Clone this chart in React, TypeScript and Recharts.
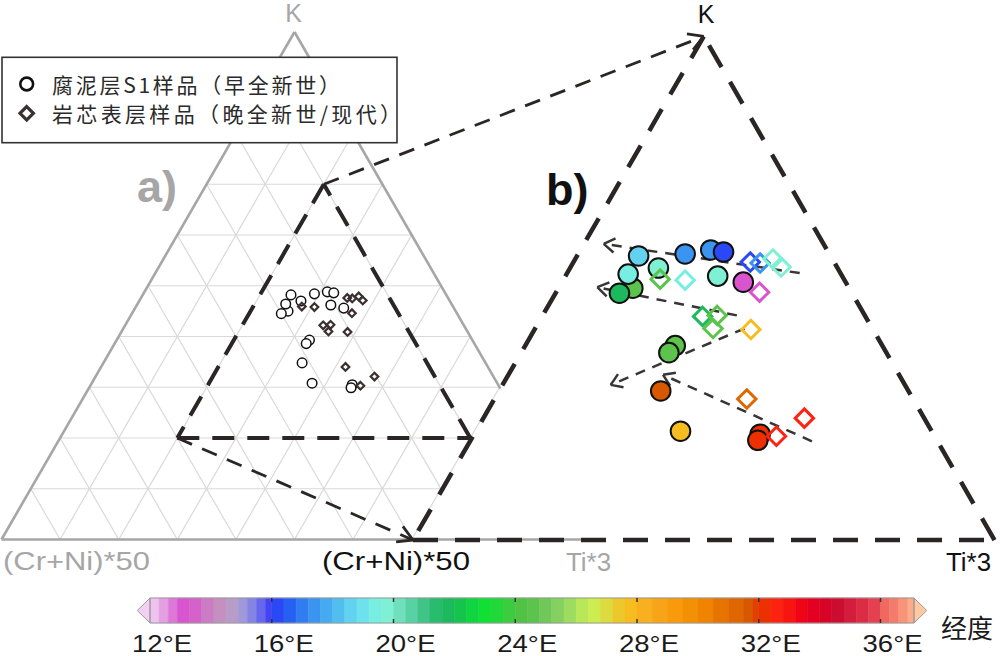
import React from 'react';
import { ComposedChart, Scatter, XAxis, YAxis, ReferenceLine, ReferenceArea } from 'recharts';

// ---------------- DATA ----------------
// Ternary composition in percent: K, Ti*3 ((Cr+Ni)*50 = remainder); longitude in °E
// Sapropel S1 samples (early Holocene) — circles
const s1K = [45.0, 44.5, 46.4, 48.2, 48.4, 48.8, 48.6, 47.0, 46.2, 45.6, 39.3, 38.6, 34.8, 30.8, 30.5, 29.9];
const s1Ti = [26.4, 25.5, 25.3, 25.3, 29.2, 31.2, 32.4, 27.6, 33.1, 35.6, 32.9, 32.7, 33.9, 37.6, 44.6, 44.7];
const s1Lon = [24.5, 21.7, 19.4, 18.6, 17.3, 17.3, 16.1, 19.8, 19.7, 13.0, 24.5, 24.5, 31.6, 27.7, 32.1, 32.2];

// Core-top samples (late Holocene / modern) — diamonds
const coreK = [45.9, 45.8, 47.6, 47.5, 47.9, 47.1, 44.6, 42.2, 42.3, 41.0, 40.9, 34.0, 32.1, 30.3];
const coreTi = [28.3, 30.5, 35.2, 36.1, 37.0, 38.1, 37.5, 33.8, 35.0, 35.3, 38.6, 41.7, 47.6, 46.1];
const coreLon = [24.5, 19.3, 16.1, 17.5, 19.6, 19.6, 13.0, 21.7, 24.5, 24.5, 27.7, 31.1, 32.5, 32.5];

// Trend arrows (start -> end), ternary percent
const trendFromK = [46.5, 42.3, 41.0, 29.8];
const trendFromTi = [40.0, 36.7, 38.0, 49.4];
const trendToK = [49.4, 45.1, 35.4, 36.4];
const trendToTi = [21.7, 23.3, 29.3, 33.3];

// Ternary grid levels and zoom window (panel b)
const gridLevels = [10, 20, 30, 40, 50, 60, 70, 80, 90];
const zoomMin = 20;
const zoomSpan = 50;

// Colour bar (longitude)
const lonTicks = [12, 16, 20, 24, 28, 32, 36];
const lonMin = 12;
const lonMax = 37.1;
const cmapLon = [12.0, 12.3, 12.6, 12.9, 13.3, 13.7, 14.1, 14.5, 14.9, 15.2, 15.5, 15.8, 16.0, 16.4, 16.8, 17.2, 17.6, 18.0, 18.4, 18.8, 19.2, 19.6, 20.0, 20.4, 20.8, 21.2, 21.6, 22.0, 22.4, 22.8, 23.2, 23.6, 24.0, 24.4, 24.8, 25.2, 25.6, 26.0, 26.4, 26.8, 27.2, 27.6, 28.0, 28.5, 29.0, 29.5, 30.0, 30.5, 31.0, 31.5, 31.8, 32.0, 32.4, 32.8, 33.2, 33.6, 34.0, 34.4, 34.8, 35.2, 35.6, 36.0, 36.3, 36.6, 36.9];
const cmapColor = ['#efc3ef', '#e4a0e2', '#dd78d8', '#d855cf', '#d462c9', '#cc7cc4', '#c590c0', '#b89cc8', '#a098d8', '#8484e4', '#6666ec', '#4444f4', '#2a48f6', '#2660f2', '#307cf0', '#3a94f0', '#46aaf0', '#52bef0', '#62d2f0', '#6ee2ec', '#78eee2', '#80f0d4', '#70e0bc', '#58d2a4', '#40c488', '#28bc6e', '#1cba5c', '#14c44c', '#10d440', '#10e034', '#20d83a', '#3ccc40', '#50c244', '#5cc44c', '#70c858', '#84d060', '#9cdc60', '#b8e858', '#ccec50', '#dcdc40', '#ecc82c', '#f6bc20', '#f8b020', '#f8a418', '#f89a0c', '#f49004', '#f08400', '#e87400', '#e06600', '#d85800', '#e04000', '#ec3000', '#fc2410', '#f81410', '#f00418', '#e40020', '#d80428', '#cc0c30', '#d41c3c', '#dc2c44', '#e44050', '#f06860', '#f47c6c', '#f89478', '#fcac88'];
const tipLeftColor = '#f3d0f3';
const tipRightColor = '#ffc8a0';

// ---------------- LAYOUT ----------------
type Pt = { x: number; y: number };
const A = { x0: 1.5, y0: 539.5, side: 586, h: 507.5 };
const B = { x0: 413, y0: 540, side: 581.5, h: 503.6 };

const ternA = (K: number, Ti: number): Pt => ({ x: A.x0 + A.side * (Ti / 100 + K / 200), y: A.y0 - (A.h * K) / 100 });
const ternB = (K: number, Ti: number): Pt => {
  const k = (K - zoomMin) / zoomSpan;
  const t = (Ti - zoomMin) / zoomSpan;
  return { x: B.x0 + B.side * (t + k / 2), y: B.y0 - B.h * k };
};

const lonColor = (lon: number) => {
  let c = cmapColor[0];
  for (let i = 0; i < cmapLon.length; i++) if (lon >= cmapLon[i]) c = cmapColor[i];
  return c;
};

const s1A = s1K.map((K, i) => ({ ...ternA(K, s1Ti[i]), lon: s1Lon[i] }));
const s1B = s1K.map((K, i) => ({ ...ternB(K, s1Ti[i]), lon: s1Lon[i] }));
const coreA = coreK.map((K, i) => ({ ...ternA(K, coreTi[i]), lon: coreLon[i] }));
const coreB = coreK.map((K, i) => ({ ...ternB(K, coreTi[i]), lon: coreLon[i] }));

const zMax = zoomMin + zoomSpan;
const bL = ternB(zoomMin, zoomMin);
const bR = ternB(zoomMin, zMax);
const bT = ternB(zMax, zoomMin);
const aL = ternA(zoomMin, zoomMin);
const aR = ternA(zoomMin, zMax);
const aT = ternA(zMax, zoomMin);

// clip panel-a lines to the part outside panel b
const sideOf = (p: Pt) => (bT.x - bL.x) * (p.y - bL.y) - (bT.y - bL.y) * (p.x - bL.x);
const clip = (p: Pt, q: Pt): [Pt, Pt] | null => {
  const sp = sideOf(p);
  const sq = sideOf(q);
  if (sp <= 0 && sq <= 0) return [p, q];
  if (sp > 0 && sq > 0) return null;
  const t = sp / (sp - sq);
  const m = { x: p.x + t * (q.x - p.x), y: p.y + t * (q.y - p.y) };
  return sp <= 0 ? [p, m] : [m, q];
};

const gridSegs: [Pt, Pt][] = [];
gridLevels.forEach((l) => {
  const cand: [Pt, Pt][] = [
    [ternA(l, 0), ternA(l, 100 - l)],
    [ternA(0, l), ternA(100 - l, l)],
    [ternA(0, 100 - l), ternA(100 - l, 0)],
  ];
  cand.forEach(([p, q]) => {
    const c = clip(p, q);
    if (c) gridSegs.push(c);
  });
});
const outlineSegs: [Pt, Pt][] = [];
[clip(ternA(0, 0), ternA(100, 0)), clip(ternA(100, 0), ternA(0, 100))].forEach((c) => c && outlineSegs.push(c));
outlineSegs.push([ternA(0, 0), ternA(0, 100)]);

const arrowHead = (tip: Pt, from: Pt, len: number, ang: number): [Pt, Pt][] => {
  const dx = from.x - tip.x;
  const dy = from.y - tip.y;
  const d = Math.hypot(dx, dy);
  const ux = dx / d;
  const uy = dy / d;
  return [1, -1].map((s) => {
    const a = (s * ang * Math.PI) / 180;
    const rx = ux * Math.cos(a) - uy * Math.sin(a);
    const ry = ux * Math.sin(a) + uy * Math.cos(a);
    return [tip, { x: tip.x + rx * len, y: tip.y + ry * len }] as [Pt, Pt];
  });
};

const trendSegs = trendFromK.map((k, i) => [ternB(k, trendFromTi[i]), ternB(trendToK[i], trendToTi[i])] as [Pt, Pt]);
const trendHeads = trendSegs.flatMap(([p, q]) => arrowHead(q, p, 13, 33));
const connectors: [Pt, Pt][] = [
  [aT, bT],
  [aL, bL],
];
const connectorHeads = connectors.flatMap(([p, q]) => arrowHead(q, p, 17, 30));

const line = (key: string, s: [Pt, Pt], stroke: string, w: number, dash?: string) => (
  <ReferenceLine
    key={key}
    segment={[s[0], s[1]]}
    stroke={stroke}
    strokeWidth={w}
    strokeDasharray={dash}
    strokeLinecap="butt"
    ifOverflow="visible"
  />
);

// ---------------- SHAPES ----------------
const CircleA = (p: any) => <circle cx={p.cx} cy={p.cy} r={4.8} fill="#fff" stroke="#111" strokeWidth={1.5} />;
const DiamondA = (p: any) => {
  const s = 3.8;
  return (
    <polygon
      points={`${p.cx},${p.cy - s} ${p.cx + s},${p.cy} ${p.cx},${p.cy + s} ${p.cx - s},${p.cy}`}
      fill="none"
      stroke="#3b3030"
      strokeWidth={2.2}
    />
  );
};
const CircleB = (p: any) => (
  <circle cx={p.cx} cy={p.cy} r={9.8} fill={lonColor(p.payload.lon)} stroke="#111" strokeWidth={2} />
);
const DiamondB = (p: any) => {
  const s = 9.2;
  return (
    <polygon
      points={`${p.cx},${p.cy - s} ${p.cx + s},${p.cy} ${p.cx},${p.cy + s} ${p.cx - s},${p.cy}`}
      fill="none"
      stroke={lonColor(p.payload.lon)}
      strokeWidth={3}
    />
  );
};
const NoShape = () => <g />;

const LonTick = (props: any) => (
  <text
    x={props.x + 12}
    y={62}
    textAnchor="middle"
    fontSize={24.5}
    fontFamily="'Liberation Sans', Arial, sans-serif"
    fill="#1a1a1a"
    textLength={60}
    lengthAdjust="spacingAndGlyphs"
  >
    {`${props.payload.value}°E`}
  </text>
);

const GRAY = '#a6a6a6';
const DARK = '#2b2525';
const latin = "'Liberation Sans', Arial, sans-serif";
const cjk = "'Noto Sans CJK SC', sans-serif";

export default function App() {
  const bands = cmapLon.map((l, i) => ({ x1: l, x2: i + 1 < cmapLon.length ? cmapLon[i + 1] : lonMax, color: cmapColor[i] }));
  return (
    <div style={{ position: 'absolute', left: 0, top: 0, width: 1000, height: 656, background: '#fff', overflow: 'hidden' }}>
      <ComposedChart width={1000} height={656} margin={{ top: 0, right: 0, bottom: 0, left: 0 }} style={{ position: 'absolute', left: 0, top: 0 }}>
        <XAxis type="number" dataKey="x" domain={[0, 1000]} hide allowDataOverflow />
        <YAxis type="number" dataKey="y" domain={[0, 656]} reversed hide allowDataOverflow />
        {gridSegs.map((s, i) => line(`g${i}`, s, '#d9d9d9', 1.2))}
        {outlineSegs.map((s, i) => line(`o${i}`, s, GRAY, 2.6))}
        {line('ia1', [aL, aR], DARK, 4, '22 13')}
        {line('ia2', [aR, aT], DARK, 4, '22 13')}
        {line('ia3', [aT, aL], DARK, 4, '22 13')}
        {connectors.map((s, i) => line(`c${i}`, s, DARK, 2.8, '16 11'))}
        {connectorHeads.map((s, i) => line(`ch${i}`, s, DARK, 2.8))}
        {line('b1', [bL, bR], DARK, 4.5, '25 17')}
        {line('b2', [bR, bT], DARK, 4.5, '25 17')}
        {line('b3', [bT, bL], DARK, 4.5, '25 17')}
        <Scatter data={s1A} shape={CircleA} isAnimationActive={false} />
        <Scatter data={coreA} shape={DiamondA} isAnimationActive={false} />
        <Scatter data={s1B} shape={CircleB} isAnimationActive={false} />
        <Scatter data={coreB} shape={DiamondB} isAnimationActive={false} />
        {trendSegs.map((s, i) => line(`t${i}`, s, '#3a3535', 2.5, '10 8'))}
        {trendHeads.map((s, i) => line(`th${i}`, s, '#3a3535', 2.5))}
      </ComposedChart>

      <ComposedChart
        width={1000}
        height={66}
        margin={{ top: 8, right: 86, bottom: 0, left: 150 }}
        style={{ position: 'absolute', left: 0, top: 590 }}
      >
        <XAxis
          type="number"
          dataKey="lon"
          domain={[lonMin, lonMax]}
          ticks={lonTicks}
          interval={0}
          height={33}
          axisLine={false}
          tickLine={false}
          tick={LonTick}
          allowDataOverflow
        />
        <YAxis type="number" dataKey="v" domain={[0, 1]} hide allowDataOverflow />
        {bands.map((b, i) => (
          <ReferenceArea key={`band${i}`} x1={b.x1} x2={b.x2} y1={0} y2={1} fill={b.color} fillOpacity={1} stroke={b.color} strokeWidth={0.6} ifOverflow="visible" />
        ))}
        <ReferenceArea
          x1={lonMin - 0.42}
          x2={lonMin}
          y1={0}
          y2={1}
          ifOverflow="visible"
          shape={(p: any) => (
            <polygon
              points={`${p.x + p.width},${p.y} ${p.x},${p.y + p.height / 2} ${p.x + p.width},${p.y + p.height}`}
              fill={tipLeftColor}
              stroke="#9a9a9a"
              strokeWidth={1}
            />
          )}
        />
        <ReferenceArea
          x1={lonMax}
          x2={lonMax + 0.42}
          y1={0}
          y2={1}
          ifOverflow="visible"
          shape={(p: any) => (
            <polygon
              points={`${p.x},${p.y} ${p.x + p.width},${p.y + p.height / 2} ${p.x},${p.y + p.height}`}
              fill={tipRightColor}
              stroke="#9a9a9a"
              strokeWidth={1}
            />
          )}
        />
        <ReferenceArea x1={lonMin} x2={lonMax} y1={0} y2={1} fill="none" stroke="#9a9a9a" strokeWidth={1} ifOverflow="visible" />
        {lonTicks.slice(1).map((t) => (
          <ReferenceLine key={`tt${t}`} segment={[{ x: t, y: 1 }, { x: t, y: 0.84 }]} stroke="#333" strokeWidth={1.5} ifOverflow="visible" />
        ))}
        {lonTicks.slice(1).map((t) => (
          <ReferenceLine key={`tb${t}`} segment={[{ x: t, y: 0 }, { x: t, y: 0.16 }]} stroke="#333" strokeWidth={1.5} ifOverflow="visible" />
        ))}
        <Scatter data={lonTicks.map((t) => ({ lon: t, v: 0.5 }))} shape={NoShape} isAnimationActive={false} />
      </ComposedChart>

      <svg width={1000} height={656} style={{ position: 'absolute', left: 0, top: 0, pointerEvents: 'none' }}>
        <text x={293.5} y={22} textAnchor="middle" fontSize={25} fontFamily={latin} fill={GRAY}>K</text>
        <text x={706} y={23} textAnchor="middle" fontSize={25} fontFamily={latin} fill="#111">K</text>
        <text x={137} y={202} fontSize={45} fontWeight="bold" fontFamily={latin} fill={GRAY}>a)</text>
        <text x={546} y={205} fontSize={45} fontWeight="bold" fontFamily={latin} fill="#111">b)</text>
        <text x={3} y={570} fontSize={25.5} fontFamily={latin} fill={GRAY} textLength={147} lengthAdjust="spacingAndGlyphs">(Cr+Ni)*50</text>
        <text x={322} y={570} fontSize={25.5} fontFamily={latin} fill="#111" textLength={148} lengthAdjust="spacingAndGlyphs">(Cr+Ni)*50</text>
        <text x={566} y={571} fontSize={25} fontFamily={latin} fill={GRAY} textLength={45} lengthAdjust="spacingAndGlyphs">Ti*3</text>
        <text x={946} y={571} fontSize={25} fontFamily={latin} fill="#111" textLength={45} lengthAdjust="spacingAndGlyphs">Ti*3</text>
        <text x={941} y={638} fontSize={26} fontFamily={cjk} fill="#1a1a1a" textLength={52} lengthAdjust="spacingAndGlyphs">经度</text>

        <rect x={2} y={57.3} width={395} height={85.4} fill="#fff" stroke="#333" strokeWidth={1.6} />
        <circle cx={26.7} cy={84} r={6.4} fill="none" stroke="#111" strokeWidth={2.6} />
        <polygon points="26.7,106.6 33.4,113.3 26.7,120 20,113.3" fill="none" stroke="#3a3030" strokeWidth={3.2} />
        <text x={52} y={93} fontSize={21} fontFamily={cjk} fill="#2a2a2a" textLength={288} lengthAdjust="spacing">腐泥层S1样品（早全新世）</text>
        <text x={52} y={121.5} fontSize={21} fontFamily={cjk} fill="#2a2a2a" textLength={349} lengthAdjust="spacing">岩芯表层样品（晚全新世/现代）</text>
      </svg>
    </div>
  );
}
